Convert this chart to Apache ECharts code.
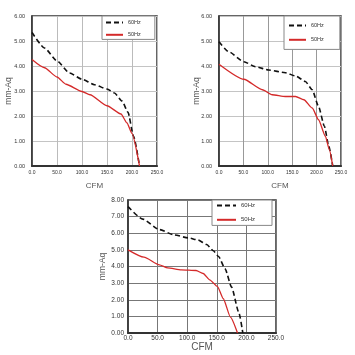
<!DOCTYPE html>
<html>
<head>
<meta charset="utf-8">
<script src="https://cdn.jsdelivr.net/npm/echarts@6/dist/echarts.min.js"></script>
<style>html,body{margin:0;padding:0;background:#fff}#c{width:355px;height:355px}</style>
</head>
<body>
<div id="c"></div>
<script>
// Chart 1 (top-left)
var c1Flow60 = [0, 25, 50, 75, 100, 125, 150, 165, 180, 192, 203, 215];
var c1Pres60 = [5.34, 4.72, 4.2, 3.72, 3.47, 3.25, 3.08, 2.92, 2.6, 2.15, 1.2, 0];
var c1Flow50 = [0, 25, 50, 68, 100, 116, 150, 178, 190, 200, 215];
var c1Pres50 = [4.26, 3.93, 3.56, 3.27, 2.98, 2.85, 2.41, 2.08, 1.72, 1.3, 0];
// Chart 2 (top-right)
var c2Flow60 = [0, 20, 51, 75, 102, 136, 157, 177, 191, 204, 216, 225, 233];
var c2Pres60 = [4.97, 4.57, 4.17, 3.97, 3.84, 3.73, 3.6, 3.38, 3.05, 2.38, 1.59, 0.79, 0];
var c2Flow50 = [0, 51, 89, 109, 136, 157, 174, 191, 204, 218, 226, 233];
var c2Pres50 = [4.07, 3.47, 3.05, 2.85, 2.78, 2.78, 2.65, 2.32, 1.85, 1.19, 0.66, 0];
// Chart 3 (bottom)
var c3Flow60 = [0, 25, 53, 78, 102, 118, 133, 144, 153, 164, 175, 187, 194];
var c3Pres60 = [7.6, 6.85, 6.22, 5.9, 5.72, 5.6, 5.32, 4.95, 4.6, 3.86, 2.76, 1.26, 0];
var c3Flow50 = [0, 27, 53, 67, 90, 115, 127, 138, 151, 161, 173, 185];
var c3Pres50 = [5.0, 4.56, 4.1, 3.92, 3.8, 3.76, 3.58, 3.2, 2.8, 2.06, 0.96, 0];

var names = ['60Hz', '50Hz'];
var xTitle = 'CFM';
var yTitle = 'mm-Aq';

function zip(a, b) { return a.map(function (v, i) { return [v, b[i]]; }); }

var FONT = 'Liberation Sans, Arial, sans-serif';

function xAxis(gi, fs, nfs, gap, margin, splitColor) {
  return {
    type: 'value', gridIndex: gi, min: 0, max: 250, interval: 50,
    name: xTitle, nameLocation: 'middle', nameGap: gap, nameMoveOverlap: false,
    nameTextStyle: { fontSize: nfs, color: '#555', fontFamily: FONT },
    axisLine: { show: true, onZero: false, lineStyle: { color: '#333', width: 2 } },
    axisTick: { show: false },
    axisLabel: { fontSize: fs, color: '#333', margin: margin, fontFamily: FONT,
      formatter: function (v) { return v.toFixed(1); } },
    splitLine: { show: true, lineStyle: { color: splitColor, width: 1 } }
  };
}
function yAxis(gi, max, fs, nfs, gap, margin, splitColor) {
  return {
    type: 'value', gridIndex: gi, min: 0, max: max, interval: 1,
    name: yTitle, nameLocation: 'middle', nameGap: gap, nameMoveOverlap: false,
    nameTextStyle: { fontSize: nfs, color: '#555', fontFamily: FONT },
    axisLine: { show: true, onZero: false, lineStyle: { color: '#333', width: 1.5 } },
    axisTick: { show: false },
    axisLabel: { fontSize: fs, color: '#333', margin: margin, fontFamily: FONT,
      formatter: function (v) { return v.toFixed(2); } },
    splitLine: { show: true, lineStyle: { color: splitColor, width: 1 } }
  };
}
function series(name, gi, data, dashed, width) {
  return {
    name: name, type: 'line', xAxisIndex: gi, yAxisIndex: gi,
    data: data, showSymbol: false, symbol: 'none',
    smooth: 0.2, smoothMonotone: 'x',
    lineStyle: dashed ? { color: '#111', width: width, type: [5, 3] }
                      : { color: '#d42a2a', width: width },
    itemStyle: { color: dashed ? '#111' : '#d42a2a' },
    z: 3
  };
}
function legend(left, top, fs, iw, gapY, pad) {
  return {
    data: names, orient: 'vertical', left: left, top: top,
    itemWidth: iw, itemHeight: 9, itemGap: gapY, itemTextGap: 7,
    padding: pad, backgroundColor: '#fff', borderColor: '#888', borderWidth: 1,
    itemStyle: { opacity: 0 },
    textStyle: { fontSize: fs, color: '#333', fontFamily: FONT },
    selectedMode: false, z: 10
  };
}

var chart = echarts.init(document.getElementById('c'), null, { renderer: 'canvas' });
chart.setOption({
  animation: false,
  backgroundColor: '#fff',
  grid: [
    { left: 32, top: 16, width: 125, height: 150, show: true, borderColor: '#333', borderWidth: 1.5 },
    { left: 219, top: 16, width: 122, height: 150, show: true, borderColor: '#333', borderWidth: 1.5 },
    { left: 128, top: 200, width: 148, height: 133, show: true, borderColor: '#333', borderWidth: 1.5 }
  ],
  xAxis: [
    xAxis(0, 5, 8, 16, 4, '#bbb'),
    xAxis(1, 5, 8, 16, 4, '#999'),
    xAxis(2, 6.5, 10, 9, 2, '#777')
  ],
  yAxis: [
    yAxis(0, 6, 5.5, 8.5, 19, 7, '#c4c4c4'),
    yAxis(1, 6, 5.5, 8.5, 18, 7, '#c4c4c4'),
    yAxis(2, 8, 6.5, 8.5, 21, 4, '#777')
  ],
  legend: [
    legend(102, 16, 5.5, 17, 5, [3, 14, 1, 3]),
    legend(284, 16, 5.5, 17, 7, [6, 16, 6, 4]),
    legend(212, 200, 6, 19, 7, [2, 17, 2, 4])
  ],
  series: [
    series('60Hz', 0, zip(c1Flow60, c1Pres60), true, 1.6),
    series('50Hz', 0, zip(c1Flow50, c1Pres50), false, 1.3),
    series('60Hz', 1, zip(c2Flow60, c2Pres60), true, 1.6),
    series('50Hz', 1, zip(c2Flow50, c2Pres50), false, 1.3),
    series('60Hz', 2, zip(c3Flow60, c3Pres60), true, 1.6),
    series('50Hz', 2, zip(c3Flow50, c3Pres50), false, 1.3)
  ]
});
</script>
</body>
</html>
